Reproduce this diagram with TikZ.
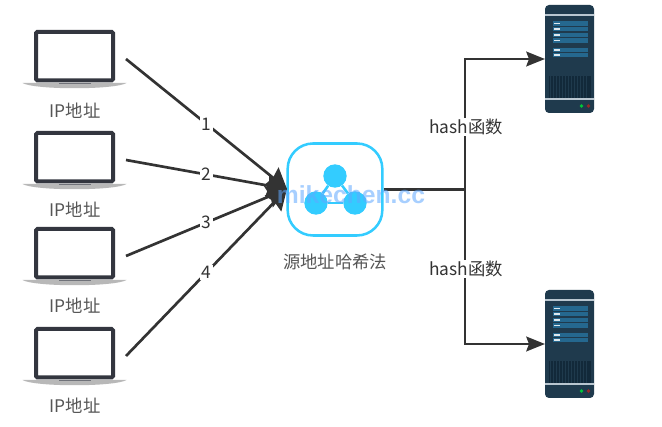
\documentclass[tikz,border=0pt]{standalone}
\usepackage{fontspec}
\setmainfont{Noto Sans CJK SC}
\setsansfont{Liberation Sans}
\usetikzlibrary{arrows.meta}
\definecolor{linedark}{HTML}{333333}
\definecolor{textgray}{HTML}{555555}
\definecolor{framedark}{HTML}{33363F}
\definecolor{baygray}{HTML}{B8B8B8}
\definecolor{hubblue}{HTML}{33CCFF}
\definecolor{markblue}{HTML}{5FA8FF}
\definecolor{srvbody}{HTML}{1F3A4D}
\definecolor{srvrow}{HTML}{25688F}
\definecolor{srvgrill}{HTML}{12293A}
\definecolor{srvline}{HTML}{B9C6D0}
\tikzset{
  caption/.style={text=textgray,font=\fontsize{13}{15}\selectfont,inner sep=0pt},
  hashtext/.style={text=linedark,font=\fontsize{13}{15}\selectfont,inner sep=1pt,fill=white},
  numtext/.style={text=linedark,font=\fontsize{13}{15}\selectfont,inner sep=1pt,fill=white},
  wire/.style={draw=linedark,line width=2pt},
  tip/.style={-{Stealth[length=15pt,width=17pt,inset=1.5pt]}},
  smalltip/.style={-{Stealth[length=14pt,width=11pt,inset=2pt]}},
  laptop/.pic={
    \node (-frame) [minimum width=77.25pt,minimum height=43.5pt,inner sep=0pt,outer sep=0pt] at (0,0) {};
    \fill[baygray] (-52,24) -- (52,24) .. controls (40,31) and (-40,31) .. (-52,24) -- cycle;
    \draw[framedark,line width=3pt,fill=white,rounded corners=1pt] (-38.5,-27) rectangle (38.5,21.5);
    \fill[framedark!70] (-16,24) rectangle (16,25);
  },
  server/.pic={
    \node (-frame) [minimum width=36.75pt,minimum height=81pt,inner sep=0pt,outer sep=0pt] at (0,0) {};
    \fill[srvbody,rounded corners=3pt] (-24.5,-54) rectangle (24.5,54);
    \draw[srvline,line width=.8pt] (-24.5,-44) -- (24.5,-44);
    \draw[srvline,line width=.8pt] (-24.5,40) -- (24.5,40);
    \foreach \rowy in {-35.5,-30,-24,-18.5,-9,-4}{
      \fill[srvrow] (-17,\rowy-2.3) rectangle (18,\rowy+2.3);
      \fill[white!85!srvrow] (-16,\rowy-.8) rectangle (-10,\rowy+.8);
    }
    \fill[srvgrill] (-21,17) rectangle (21,39);
    \foreach \gridx in {-19,-16,...,19}
      \draw[srvbody,line width=.5pt] (\gridx,17) -- (\gridx,39);
    \fill[green!55!teal] (12,47) circle (1.8);
    \fill[red!50!black!80!pink] (19,47) circle (1.8);
  }
}
\begin{document}
\begin{tikzpicture}
  [x=.75pt,y=-.75pt]
  \useasboundingbox[fill=white] (0,0) rectangle (662,427);
  % laptops on the left
  \pic (pc1) at (74.5,59) {laptop};
  \pic (pc2) at (74.5,160) {laptop};
  \pic (pc3) at (74.5,256) {laptop};
  \pic (pc4) at (74.5,356) {laptop};
  \node (ip1)[caption] at (75,111) {IP地址};
  \node (ip2)[caption] at (75,210) {IP地址};
  \node (ip3)[caption] at (75,306) {IP地址};
  \node (ip4)[caption] at (75,406) {IP地址};
  % hash box
  \node (hub)[draw=hubblue,line width=1.9pt,fill=white,rounded corners=19pt,minimum width=71pt,minimum height=69pt] at (335,189.5) {};
  \node (hubtext)[caption] at (335,261.5) {源地址哈希法};
  \coordinate (hubin) at (287,189);
  \node (top)[circle,fill=hubblue,minimum size=17.5pt,inner sep=0pt] at (335,176) {};
  \node (left)[circle,fill=hubblue,minimum size=17.5pt,inner sep=0pt] at (316,203) {};
  \node (right)[circle,fill=hubblue,minimum size=17.5pt,inner sep=0pt] at (355,203) {};
  \foreach \from/\to in {top/left,left/right,right/top}
    \draw[hubblue,line width=1.9pt] (\from) -- (\to);
  % servers on the right
  \pic (srv1) at (569.5,59) {server};
  \pic (srv2) at (569.5,344) {server};
  \coordinate (fork) at (465,189.5);
  \draw[wire] (hub.east) -- (fork);
  \draw[wire,smalltip] (fork) |- (srv1-frame.west);
  \draw[wire,smalltip] (fork) |- (srv2-frame.west);
  \node (hash1)[hashtext] at (466,127) {hash函数};
  \node (hash2)[hashtext] at (466,269) {hash函数};
  % numbered connectors
  \foreach \from/\num in {pc1/1,pc2/2,pc3/3,pc4/4}
    \draw[wire,tip] (\from-frame.east) -- node[numtext] {\num} (hubin);
  \node (mark)[text=markblue,opacity=.55,font=\sffamily\bfseries\fontsize{18.5}{20}\selectfont,inner sep=0pt] at (351,195) {mikechen.cc};
\end{tikzpicture}
\end{document}
